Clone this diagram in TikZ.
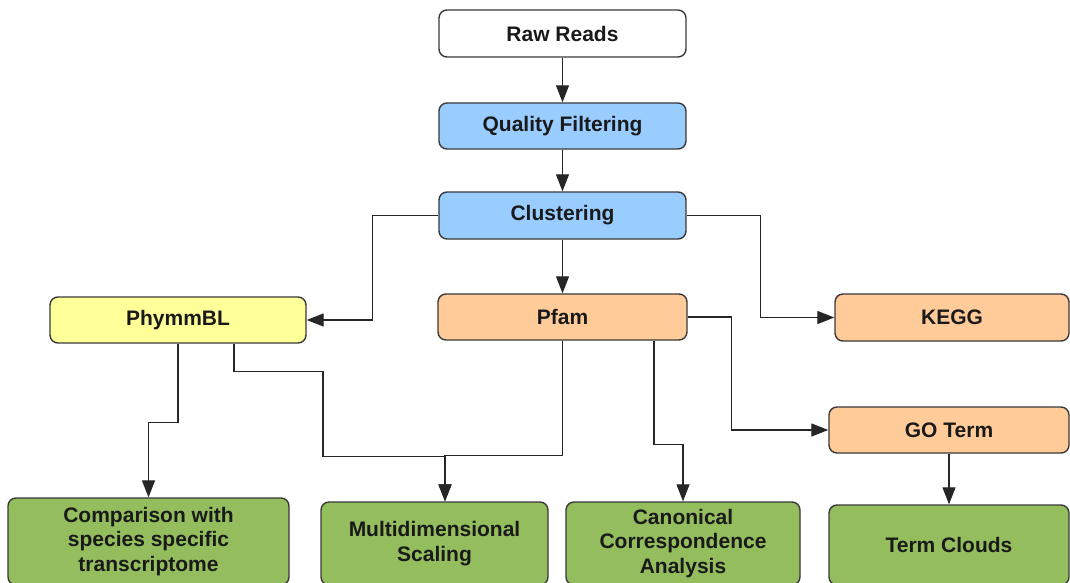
\documentclass[tikz,border=0pt]{standalone}
\usepackage{fontspec}
\setmainfont{Liberation Sans}
\usetikzlibrary{arrows.meta,calc}
\definecolor{cblue}{HTML}{99CCFF}
\definecolor{cyellow}{HTML}{FFFF99}
\definecolor{cpeach}{HTML}{FFCC99}
\definecolor{cgreen}{HTML}{94BD5E}
\definecolor{cline}{HTML}{3A3A3A}
\definecolor{ctext}{HTML}{1A1A1A}
\begin{document}
\begin{tikzpicture}[x=1pt,y=-1pt,
  box/.style={draw=cline, line width=1.4pt, rounded corners=8pt, inner sep=0pt,
    align=center, text=ctext, font=\fontsize{21}{24.5}\selectfont\bfseries},
  arr/.style={draw=black!85, line width=1.3pt, -{Triangle[length=17pt,width=13pt]}}]
\useasboundingbox (0,0) rectangle (1070,583);
\fill[white] (0,0) rectangle (1070,583);
% nodes
\node[box, fill=white, minimum width=247pt, minimum height=47pt] (raw) at (562.5,33.5) {Raw Reads};
\node[box, fill=cblue, minimum width=247pt, minimum height=46pt] (qf) at (562.5,126) {Quality Filtering};
\node[box, fill=cblue, minimum width=247pt, minimum height=47pt] (clu) at (562.5,215.5) {Clustering};
\node[box, fill=cyellow, minimum width=256pt, minimum height=46pt] (phy) at (178,320) {PhymmBL};
\node[box, fill=cpeach, minimum width=249pt, minimum height=46pt] (pfam) at (562.5,317) {Pfam};
\node[box, fill=cpeach, minimum width=234pt, minimum height=47pt] (kegg) at (952,317.5) {KEGG};
\node[box, fill=cpeach, minimum width=240pt, minimum height=46pt] (go) at (949,430) {GO Term};
\node[box, fill=cgreen, minimum width=281pt, minimum height=87pt] (cmp) at (148.5,541.5) {Comparison with\\species specific\\transcriptome};
\node[box, fill=cgreen, minimum width=227pt, minimum height=83pt] (mds) at (434.5,543.5) {Multidimensional\\Scaling};
\node[box, fill=cgreen, minimum width=234pt, minimum height=83pt] (cca) at (683,543.5) {Canonical\\Correspondence\\Analysis};
\node[box, fill=cgreen, minimum width=240pt, minimum height=80pt] (tc) at (949,545) {Term Clouds};
% connectors
\draw[arr] (raw) -- (qf);
\draw[arr] (qf) -- (clu);
\draw[arr] (clu) -- (pfam);
\draw[arr] (clu.west) -- ++(-66,0) |- (phy.east);
\draw[arr] (clu.east) -- ++(74,0) |- (kegg.west);
\draw[arr] (phy.south) -- ++(0,79) -| (cmp.north);
\draw[arr] ([xshift=56pt]phy.south) -- ++(0,28) -- ++(89,0) -- ++(0,85) -| ([xshift=10.5pt]mds.north);
\draw[arr] (pfam.south) -- ++(0,115) -| ([xshift=10.5pt]mds.north);
\draw[arr] ([xshift=91.5pt]pfam.south) -- ++(0,104) -| (cca.north);
\draw[arr] (pfam.east) -- ++(44,0) |- (go.west);
\draw[arr] (go) -- (tc);
\end{tikzpicture}
\end{document}
